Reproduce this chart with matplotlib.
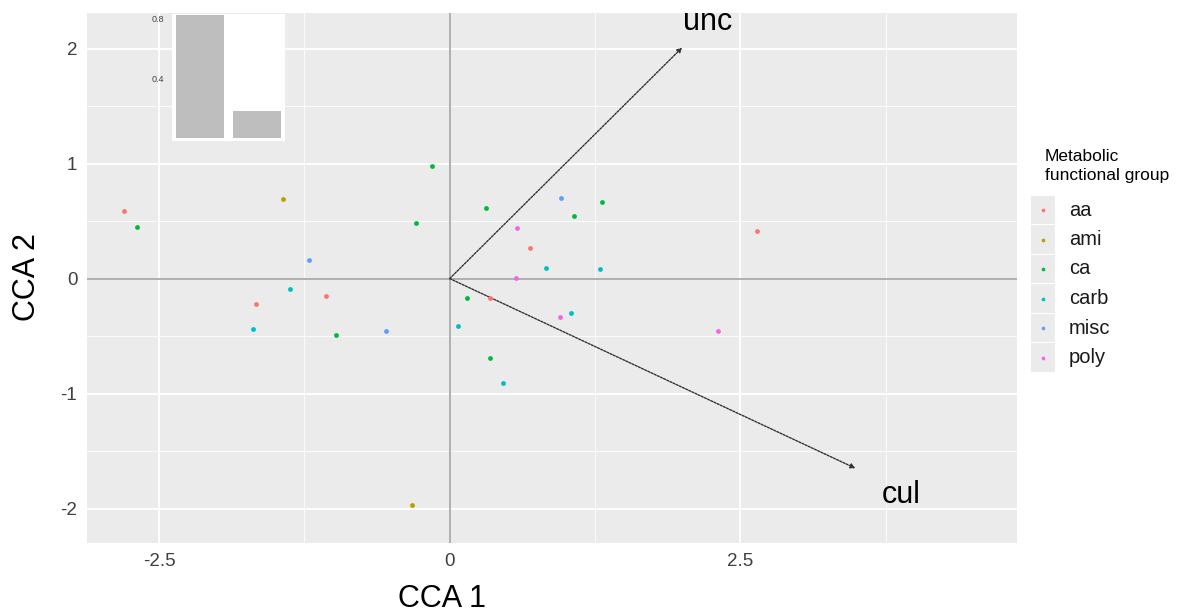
# CCA biplot - metabolic functional groups

import numpy as np
import matplotlib.pyplot as plt
from matplotlib.patches import Rectangle, FancyArrowPatch

plt.rcParams['font.family'] = ['Liberation Sans', 'DejaVu Sans']
plt.rcParams['axes.unicode_minus'] = False

# ============================================================
# 1. DATA
# ============================================================

groups = ["aa", "ami", "ca", "carb", "misc", "poly"]
colors = ["#F8766D", "#B79F00", "#00BA38", "#00BFC4", "#619CFF", "#F564E3"]

aa_x = [-2.80, -1.06, -1.67, 0.35, 0.69, 2.64]
aa_y = [0.585, -0.15, -0.22, -0.165, 0.27, 0.41]

ami_x = [-1.43, -0.325]
ami_y = [0.69, -1.97]

ca_x = [-2.69, -0.15, -0.29, -0.98, 0.15, 0.31, 1.31, 1.07, 0.35]
ca_y = [0.45, 0.98, 0.48, -0.49, -0.165, 0.61, 0.67, 0.545, -0.69]

carb_x = [-1.37, -1.69, 0.07, 0.83, 1.29, 1.045, 0.46]
carb_y = [-0.09, -0.44, -0.41, 0.09, 0.08, -0.30, -0.91]

misc_x = [-1.21, -0.55, 0.96]
misc_y = [0.16, -0.455, 0.70]

poly_x = [0.58, 0.57, 0.95, 2.31]
poly_y = [0.44, 0.005, -0.33, -0.46]

# environmental vectors
env_names = ["unc", "cul"]
env_x = [2.0, 3.49]
env_y = [2.01, -1.65]
env_label_x = [2.22, 3.88]
env_label_y = [2.23, -1.88]

# eigenvalue inset
eig_vals = [0.82, 0.18]
eig_ticks = [0.4, 0.8]

xs = [aa_x, ami_x, ca_x, carb_x, misc_x, poly_x]
ys = [aa_y, ami_y, ca_y, carb_y, misc_y, poly_y]

# ============================================================
# 2. MAIN PANEL
# ============================================================

W, H = 1182, 616
fig = plt.figure(figsize=(W / 100, H / 100), dpi=100)
fig.patch.set_facecolor("white")

ax = fig.add_axes([87 / W, 1 - 543 / H, (1017 - 87) / W, (543 - 13) / H])
ax.set_facecolor("#EBEBEB")

ax.set_xticks([-2.5, 0, 2.5])
ax.set_xticklabels(["-2.5", "0", "2.5"])
ax.set_xticks([-1.25, 1.25, 3.75], minor=True)
ax.set_yticks([-2, -1, 0, 1, 2])
ax.set_yticks([-1.5, -0.5, 0.5, 1.5], minor=True)
ax.set_xlim(-3.12, 4.88)
ax.set_ylim(-2.30, 2.31)
ax.grid(True, which="major", color="white", linewidth=1.3)
ax.grid(True, which="minor", color="white", linewidth=0.6)
ax.set_axisbelow(True)
for s in ax.spines.values():
    s.set_visible(False)
ax.tick_params(which="both", length=0)
ax.tick_params(which="major", labelsize=13.5, labelcolor="#404040", pad=7)

ax.axhline(0, color="#9A9A9A", linewidth=1.1, zorder=1)
ax.axvline(0, color="#9A9A9A", linewidth=1.1, zorder=1)

for gx, gy, c in zip(xs, ys, colors):
    ax.scatter(gx, gy, s=12, color=c, zorder=3, linewidths=0)

for name, ex, ey, lx, ly in zip(env_names, env_x, env_y, env_label_x, env_label_y):
    arr = FancyArrowPatch((0, 0), (ex, ey), arrowstyle="-|>", mutation_scale=7,
                          color="#333333", linewidth=1.0, linestyle=(0, (1.5, 1)),
                          shrinkA=0, shrinkB=0, zorder=2)
    ax.add_patch(arr)
    ax.text(lx, ly, name, fontsize=22, ha="center", va="center", color="black")

ax.set_xlabel("CCA 1", fontsize=22)
ax.xaxis.set_label_coords((442 - 87) / 930, (543 - 599) / 530)
ax.xaxis.label.set_va("center")
ax.set_ylabel("CCA 2", fontsize=22)
ax.yaxis.set_label_coords((27 - 87) / 930, (543 - 277) / 530)
ax.yaxis.label.set_va("center")

# ============================================================
# 3. EIGENVALUE INSET
# ============================================================

ins = fig.add_axes([172 / W, 1 - 141 / H, (285 - 172) / W, (141 - 14) / H])
ins.set_facecolor("white")
ins.bar([1, 2], eig_vals, width=0.85, color="#BEBEBE")
ins.set_xlim(0.5, 2.5)
ins.set_ylim(-0.02, 0.83)
ins.set_xticks([])
ins.set_yticks(eig_ticks)
ins.set_yticklabels([f"{t:.1f}" for t in eig_ticks])
ins.tick_params(length=0, labelsize=6.5, labelcolor="#444444", pad=6)
for s in ins.spines.values():
    s.set_visible(False)

# ============================================================
# 4. LEGEND
# ============================================================

fig.text(1045 / W, 1 - 166 / H, "Metabolic\nfunctional group", fontsize=12.5,
         ha="left", va="center", linespacing=1.3)

lax = fig.add_axes([0, 0, 1, 1])
lax.set_xlim(0, W)
lax.set_ylim(H, 0)
lax.axis("off")
row_h = 29.5
y0 = 210
for i, (g, c) in enumerate(zip(groups, colors)):
    yc = y0 + i * row_h
    lax.add_patch(Rectangle((1031, yc - row_h / 2 + 0.7), 24, row_h - 1.4,
                            facecolor="#EBEBEB", edgecolor="none"))
    lax.scatter([1043], [yc], s=7, color=c, linewidths=0)
    lax.text(1069, yc, g, fontsize=14.5, ha="left", va="center", color="#1A1A1A")

fig.savefig("out.png", dpi=100)
